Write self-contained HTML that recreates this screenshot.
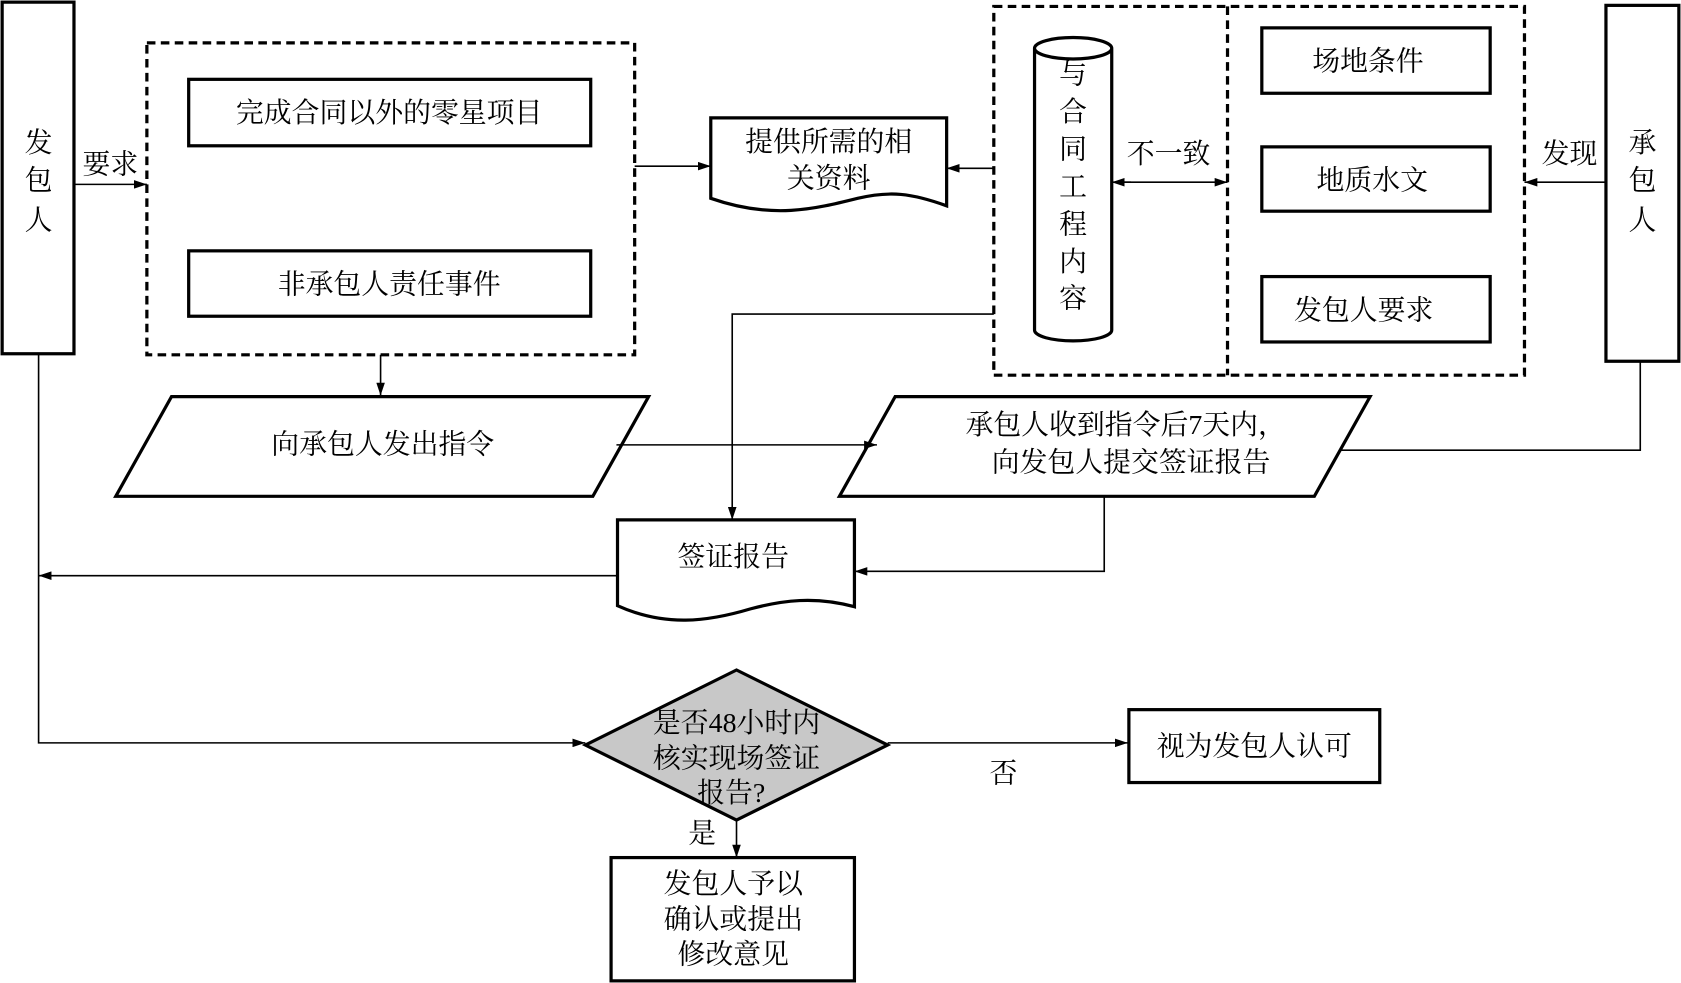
<!DOCTYPE html>
<html><head><meta charset="utf-8"><style>
html,body{margin:0;padding:0;background:#fff;}
svg{display:block;}
text{font-family:"Liberation Serif","Noto Serif CJK SC","Noto Sans CJK SC",serif;font-size:26px;fill:#000;}
</style></head><body>
<svg width="1681" height="983" viewBox="0 0 1568 917" preserveAspectRatio="none" xmlns="http://www.w3.org/2000/svg">
<defs><marker id="a" markerWidth="12" markerHeight="8" refX="12" refY="4" orient="auto" markerUnits="userSpaceOnUse"><path d="M0,0 L12,4 L0,8 Z" fill="#000"/></marker></defs>
<g fill="none" stroke="#000" stroke-width="3">
<rect x="2" y="2" width="67" height="328" fill="#fff"/>
<rect x="1498" y="5" width="68" height="332" fill="#fff"/>
<rect x="137" y="40" width="455" height="291" stroke-dasharray="8,5"/>
<rect x="176" y="74" width="375" height="62"/>
<rect x="176" y="234" width="375" height="61"/>
<rect x="927" y="6" width="495" height="344" stroke-dasharray="8,5"/>
<line x1="1145" y1="6" x2="1145" y2="350" stroke-dasharray="8,5"/>
<rect x="1177" y="26" width="213" height="61"/>
<rect x="1177" y="137" width="213" height="60"/>
<rect x="1177" y="258" width="213" height="61"/>
<path d="M965,45 L965,308 A36,10 0 0 0 1037,308 L1037,45 A36,10 0 0 0 965,45 A36,10 0 0 0 1037,45"/>
<path d="M663,110 L883,110 L883,192 C850,180 830,178 800,185 C760,195 720,205 663,185 Z"/>
<path d="M576,485 L797,485 L797,566 C760,556 730,560 700,568 C660,580 620,585 576,565 Z"/>
<polygon points="108,463 160,370 605,370 553,463"/>
<polygon points="783,463 835,370 1278,370 1226,463"/>
<polygon points="546,695 687,625 828,695 687,765" fill="#c8c8c8"/>
<rect x="1053" y="662" width="234" height="68"/>
<rect x="570" y="800" width="227" height="115"/>
</g>
<g fill="none" stroke="#000" stroke-width="1.5">
<line x1="69" y1="172" x2="137" y2="172" marker-end="url(#a)"/>
<line x1="592" y1="155" x2="663" y2="155" marker-end="url(#a)"/>
<line x1="927" y1="157" x2="883" y2="157" marker-end="url(#a)"/>
<line x1="1055" y1="170" x2="1037" y2="170" marker-end="url(#a)"/>
<line x1="1040" y1="170" x2="1145" y2="170" marker-end="url(#a)"/>
<line x1="1498" y1="170" x2="1422" y2="170" marker-end="url(#a)"/>
<line x1="355" y1="331" x2="355" y2="369" marker-end="url(#a)"/>
<line x1="575" y1="415" x2="818" y2="415" marker-end="url(#a)"/>
<polyline points="1530,337 1530,420 1250,420"/>
<polyline points="927,293 683,293 683,485" marker-end="url(#a)"/>
<polyline points="1030,463 1030,533 797,533" marker-end="url(#a)"/>
<line x1="576" y1="537" x2="36" y2="537" marker-end="url(#a)"/>
<polyline points="36,330 36,693 546,693" marker-end="url(#a)"/>
<line x1="828" y1="693" x2="1052" y2="693" marker-end="url(#a)"/>
<line x1="687" y1="765" x2="687" y2="800" marker-end="url(#a)"/>
</g>
<g text-anchor="middle">
<text x="36" y="142">发</text><text x="36" y="177">包</text><text x="36" y="214">人</text>
<text x="1532" y="142">承</text><text x="1532" y="177">包</text><text x="1532" y="214">人</text>
<text x="103" y="162">要求</text>
<text x="1464" y="152">发现</text>
<text x="1090" y="152">不一致</text>
<text x="363" y="114">完成合同以外的零星项目</text>
<text x="363" y="274">非承包人责任事件</text>
<text x="773" y="141">提供所需的相</text>
<text x="773" y="175">关资料</text>
<text x="1001" y="78">与</text><text x="1001" y="113">合</text><text x="1001" y="148">同</text><text x="1001" y="183">工</text><text x="1001" y="218">程</text><text x="1001" y="253">内</text><text x="1001" y="287">容</text>
<text x="1276" y="66">场地条件</text>
<text x="1280" y="177">地质水文</text>
<text x="1272" y="298">发包人要求</text>
<text x="357" y="423">向承包人发出指令</text>
<text x="1050" y="405">承包人收到指令后7天内，</text>
<text x="1055" y="440">向发包人提交签证报告</text>
<text x="684" y="528">签证报告</text>
<text x="687" y="683">是否48小时内</text>
<text x="687" y="716">核实现场签证</text>
<text x="682" y="748">报告?</text>
<text x="936" y="730">否</text>
<text x="655" y="786">是</text>
<text x="1170" y="705">视为发包人认可</text>
<text x="684" y="833">发包人予以</text>
<text x="684" y="866">确认或提出</text>
<text x="684" y="899">修改意见</text>
</g>
</svg>
</body></html>
